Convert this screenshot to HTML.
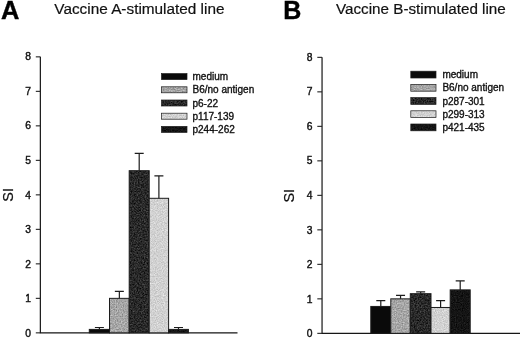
<!DOCTYPE html>
<html><head><meta charset="utf-8"><title>Figure</title>
<style>
html,body{margin:0;padding:0;background:#fff;}
body{width:520px;height:339px;overflow:hidden;font-family:"Liberation Sans",sans-serif;}
svg{display:block}
text{font-family:"Liberation Sans",sans-serif;fill:#111;}
.tk{font-size:10.3px;stroke:#111;stroke-width:0.4px}
.lg{font-size:10px;stroke:#111;stroke-width:0.35px}
.ttl{font-size:15.3px;stroke:#111;stroke-width:0.2px}
.pl{font-size:24.5px;font-weight:bold;fill:#000;stroke:#000;stroke-width:0.4px}
.si{font-size:14.4px;stroke:#111;stroke-width:0.2px}
</style></head><body>
<svg width="520" height="339" viewBox="0 0 520 339">
<defs>
<filter id="fMid" x="0" y="0" width="1" height="1" color-interpolation-filters="sRGB">
<feTurbulence type="fractalNoise" baseFrequency="0.85" numOctaves="2" seed="2" result="n"/>
<feColorMatrix in="n" type="matrix" values="0.45 0 0 0 0.425  0.45 0 0 0 0.425  0.45 0 0 0 0.425  0 0 0 0 1" result="g"/>
<feComposite in="g" in2="SourceGraphic" operator="in"/>
</filter>
<filter id="fDark" x="0" y="0" width="1" height="1" color-interpolation-filters="sRGB">
<feTurbulence type="fractalNoise" baseFrequency="0.7" numOctaves="2" seed="5" result="n"/>
<feColorMatrix in="n" type="matrix" values="0.45 0 0 0 -0.065  0.45 0 0 0 -0.065  0.45 0 0 0 -0.065  0 0 0 0 1" result="g"/>
<feComposite in="g" in2="SourceGraphic" operator="in"/>
</filter>
<filter id="fLight" x="0" y="0" width="1" height="1" color-interpolation-filters="sRGB">
<feTurbulence type="fractalNoise" baseFrequency="0.85" numOctaves="2" seed="9" result="n"/>
<feColorMatrix in="n" type="matrix" values="0.3 0 0 0 0.670  0.3 0 0 0 0.670  0.3 0 0 0 0.670  0 0 0 0 1" result="g"/>
<feComposite in="g" in2="SourceGraphic" operator="in"/>
</filter>
<filter id="fVDark" x="0" y="0" width="1" height="1" color-interpolation-filters="sRGB">
<feTurbulence type="fractalNoise" baseFrequency="0.85" numOctaves="2" seed="11" result="n"/>
<feColorMatrix in="n" type="matrix" values="0.22 0 0 0 -0.030  0.22 0 0 0 -0.030  0.22 0 0 0 -0.030  0 0 0 0 1" result="g"/>
<feComposite in="g" in2="SourceGraphic" operator="in"/>
</filter>
</defs>
<rect width="520" height="339" fill="#fff"/>
<text x="1" y="19" class="pl" style="font-size:25.4px">A</text>
<text x="54.3" y="13.6" class="ttl" textLength="170.2" lengthAdjust="spacingAndGlyphs">Vaccine A-stimulated line</text>
<text x="283.2" y="18.9" class="pl" style="font-size:25px">B</text>
<text x="336" y="13.8" class="ttl" textLength="169.8" lengthAdjust="spacingAndGlyphs">Vaccine B-stimulated line</text>
<text transform="translate(12.9,201.7) rotate(-90)" class="si">SI</text>
<text transform="translate(294.3,202.5) rotate(-90)" class="si">SI</text>
<path d="M40.35 56.85V332.85H237.5" stroke="#161616" stroke-width="1.2" fill="none"/>
<path d="M35.8 332.85H40.35" stroke="#222" stroke-width="1.1"/>
<text x="31" y="337.05" class="tk" text-anchor="end">0</text>
<path d="M35.8 298.35H40.35" stroke="#222" stroke-width="1.1"/>
<text x="31" y="302.45" class="tk" text-anchor="end">1</text>
<path d="M35.8 263.85H40.35" stroke="#222" stroke-width="1.1"/>
<text x="31" y="267.85" class="tk" text-anchor="end">2</text>
<path d="M35.8 229.35H40.35" stroke="#222" stroke-width="1.1"/>
<text x="31" y="233.25" class="tk" text-anchor="end">3</text>
<path d="M35.8 194.85H40.35" stroke="#222" stroke-width="1.1"/>
<text x="31" y="198.65" class="tk" text-anchor="end">4</text>
<path d="M35.8 160.35H40.35" stroke="#222" stroke-width="1.1"/>
<text x="31" y="164.05" class="tk" text-anchor="end">5</text>
<path d="M35.8 125.85H40.35" stroke="#222" stroke-width="1.1"/>
<text x="31" y="129.45" class="tk" text-anchor="end">6</text>
<path d="M35.8 91.35H40.35" stroke="#222" stroke-width="1.1"/>
<text x="31" y="94.85" class="tk" text-anchor="end">7</text>
<path d="M35.8 56.85H40.35" stroke="#222" stroke-width="1.1"/>
<text x="31" y="60.25" class="tk" text-anchor="end">8</text>
<rect x="89.30" y="329.40" width="20.20" height="3.45" fill="#0a0a0a" stroke="#1c1c1c" stroke-width="1"/>
<path d="M99.40 329.40V327.50M94.90 327.50H103.90" stroke="#1c1c1c" stroke-width="1.2" fill="none"/>
<rect x="109.50" y="298.35" width="19.70" height="34.50" fill="#a8a8a8" filter="url(#fMid)"/>
<rect x="109.50" y="298.35" width="19.70" height="34.50" fill="none" stroke="#1c1c1c" stroke-width="1"/>
<path d="M119.35 298.35V291.45M114.85 291.45H123.85" stroke="#1c1c1c" stroke-width="1.2" fill="none"/>
<rect x="129.20" y="170.70" width="20.00" height="162.15" fill="#2b2b2b" filter="url(#fDark)"/>
<rect x="129.20" y="170.70" width="20.00" height="162.15" fill="none" stroke="#1c1c1c" stroke-width="1"/>
<path d="M139.20 170.70V153.45M134.70 153.45H143.70" stroke="#1c1c1c" stroke-width="1.2" fill="none"/>
<rect x="149.20" y="198.30" width="19.40" height="134.55" fill="#d8d8d8" filter="url(#fLight)"/>
<rect x="149.20" y="198.30" width="19.40" height="134.55" fill="none" stroke="#1c1c1c" stroke-width="1"/>
<path d="M158.90 198.30V175.88M154.40 175.88H163.40" stroke="#1c1c1c" stroke-width="1.2" fill="none"/>
<rect x="168.60" y="329.40" width="19.80" height="3.45" fill="#141414" filter="url(#fVDark)"/>
<rect x="168.60" y="329.40" width="19.80" height="3.45" fill="none" stroke="#1c1c1c" stroke-width="1"/>
<path d="M178.50 329.40V327.50M174.00 327.50H183.00" stroke="#1c1c1c" stroke-width="1.2" fill="none"/>
<rect x="161.50" y="73.60" width="25.50" height="6.00" fill="#0a0a0a" stroke="#1c1c1c" stroke-width="0.7"/>
<text x="192.5" y="80.10" class="lg">medium</text>
<rect x="161.50" y="86.80" width="25.50" height="6.00" fill="#a8a8a8" filter="url(#fMid)"/>
<rect x="161.50" y="86.80" width="25.50" height="6.00" fill="none" stroke="#1c1c1c" stroke-width="0.7"/>
<text x="192.5" y="93.30" class="lg">B6/no antigen</text>
<rect x="161.50" y="100.00" width="25.50" height="6.00" fill="#2b2b2b" filter="url(#fDark)"/>
<rect x="161.50" y="100.00" width="25.50" height="6.00" fill="none" stroke="#1c1c1c" stroke-width="0.7"/>
<text x="192.5" y="106.50" class="lg">p6-22</text>
<rect x="161.50" y="113.20" width="25.50" height="6.00" fill="#d8d8d8" filter="url(#fLight)"/>
<rect x="161.50" y="113.20" width="25.50" height="6.00" fill="none" stroke="#1c1c1c" stroke-width="0.7"/>
<text x="192.5" y="119.70" class="lg">p117-139</text>
<rect x="161.50" y="126.40" width="25.50" height="6.00" fill="#141414" filter="url(#fVDark)"/>
<rect x="161.50" y="126.40" width="25.50" height="6.00" fill="none" stroke="#1c1c1c" stroke-width="0.7"/>
<text x="192.5" y="132.90" class="lg">p244-262</text>
<path d="M322.05 57.35V333.35H520" stroke="#161616" stroke-width="1.2" fill="none"/>
<path d="M317.3 333.35H322.05" stroke="#222" stroke-width="1.1"/>
<text x="312.5" y="337.17" class="tk" text-anchor="end">0</text>
<path d="M317.3 298.85H322.05" stroke="#222" stroke-width="1.1"/>
<text x="312.5" y="302.63" class="tk" text-anchor="end">1</text>
<path d="M317.3 264.35H322.05" stroke="#222" stroke-width="1.1"/>
<text x="312.5" y="268.09" class="tk" text-anchor="end">2</text>
<path d="M317.3 229.85H322.05" stroke="#222" stroke-width="1.1"/>
<text x="312.5" y="233.55" class="tk" text-anchor="end">3</text>
<path d="M317.3 195.35H322.05" stroke="#222" stroke-width="1.1"/>
<text x="312.5" y="199.01" class="tk" text-anchor="end">4</text>
<path d="M317.3 160.85H322.05" stroke="#222" stroke-width="1.1"/>
<text x="312.5" y="164.47" class="tk" text-anchor="end">5</text>
<path d="M317.3 126.35H322.05" stroke="#222" stroke-width="1.1"/>
<text x="312.5" y="129.93" class="tk" text-anchor="end">6</text>
<path d="M317.3 91.85H322.05" stroke="#222" stroke-width="1.1"/>
<text x="312.5" y="95.39" class="tk" text-anchor="end">7</text>
<path d="M317.3 57.35H322.05" stroke="#222" stroke-width="1.1"/>
<text x="312.5" y="60.85" class="tk" text-anchor="end">8</text>
<rect x="370.80" y="306.44" width="20.00" height="26.91" fill="#0a0a0a" stroke="#1c1c1c" stroke-width="1"/>
<path d="M380.80 306.44V300.58M376.30 300.58H385.30" stroke="#1c1c1c" stroke-width="1.2" fill="none"/>
<rect x="390.80" y="298.85" width="19.50" height="34.50" fill="#a8a8a8" filter="url(#fMid)"/>
<rect x="390.80" y="298.85" width="19.50" height="34.50" fill="none" stroke="#1c1c1c" stroke-width="1"/>
<path d="M400.55 298.85V295.40M396.05 295.40H405.05" stroke="#1c1c1c" stroke-width="1.2" fill="none"/>
<rect x="410.30" y="293.68" width="20.70" height="39.68" fill="#2b2b2b" filter="url(#fDark)"/>
<rect x="410.30" y="293.68" width="20.70" height="39.68" fill="none" stroke="#1c1c1c" stroke-width="1"/>
<path d="M420.65 293.68V291.95M416.15 291.95H425.15" stroke="#1c1c1c" stroke-width="1.2" fill="none"/>
<rect x="431.00" y="307.48" width="19.20" height="25.88" fill="#d8d8d8" filter="url(#fLight)"/>
<rect x="431.00" y="307.48" width="19.20" height="25.88" fill="none" stroke="#1c1c1c" stroke-width="1"/>
<path d="M440.60 307.48V300.58M436.10 300.58H445.10" stroke="#1c1c1c" stroke-width="1.2" fill="none"/>
<rect x="450.20" y="289.88" width="20.00" height="43.47" fill="#141414" filter="url(#fVDark)"/>
<rect x="450.20" y="289.88" width="20.00" height="43.47" fill="none" stroke="#1c1c1c" stroke-width="1"/>
<path d="M460.20 289.88V280.91M455.70 280.91H464.70" stroke="#1c1c1c" stroke-width="1.2" fill="none"/>
<rect x="410.80" y="71.20" width="25.20" height="6.80" fill="#0a0a0a" stroke="#1c1c1c" stroke-width="0.7"/>
<text x="442.4" y="78.10" class="lg">medium</text>
<rect x="410.80" y="84.40" width="25.20" height="6.80" fill="#a8a8a8" filter="url(#fMid)"/>
<rect x="410.80" y="84.40" width="25.20" height="6.80" fill="none" stroke="#1c1c1c" stroke-width="0.7"/>
<text x="442.4" y="91.30" class="lg">B6/no antigen</text>
<rect x="410.80" y="97.60" width="25.20" height="6.80" fill="#2b2b2b" filter="url(#fDark)"/>
<rect x="410.80" y="97.60" width="25.20" height="6.80" fill="none" stroke="#1c1c1c" stroke-width="0.7"/>
<text x="442.4" y="104.50" class="lg">p287-301</text>
<rect x="410.80" y="110.80" width="25.20" height="6.80" fill="#d8d8d8" filter="url(#fLight)"/>
<rect x="410.80" y="110.80" width="25.20" height="6.80" fill="none" stroke="#1c1c1c" stroke-width="0.7"/>
<text x="442.4" y="117.70" class="lg">p299-313</text>
<rect x="410.80" y="124.00" width="25.20" height="6.80" fill="#141414" filter="url(#fVDark)"/>
<rect x="410.80" y="124.00" width="25.20" height="6.80" fill="none" stroke="#1c1c1c" stroke-width="0.7"/>
<text x="442.4" y="130.90" class="lg">p421-435</text>

</svg>
</body></html>
